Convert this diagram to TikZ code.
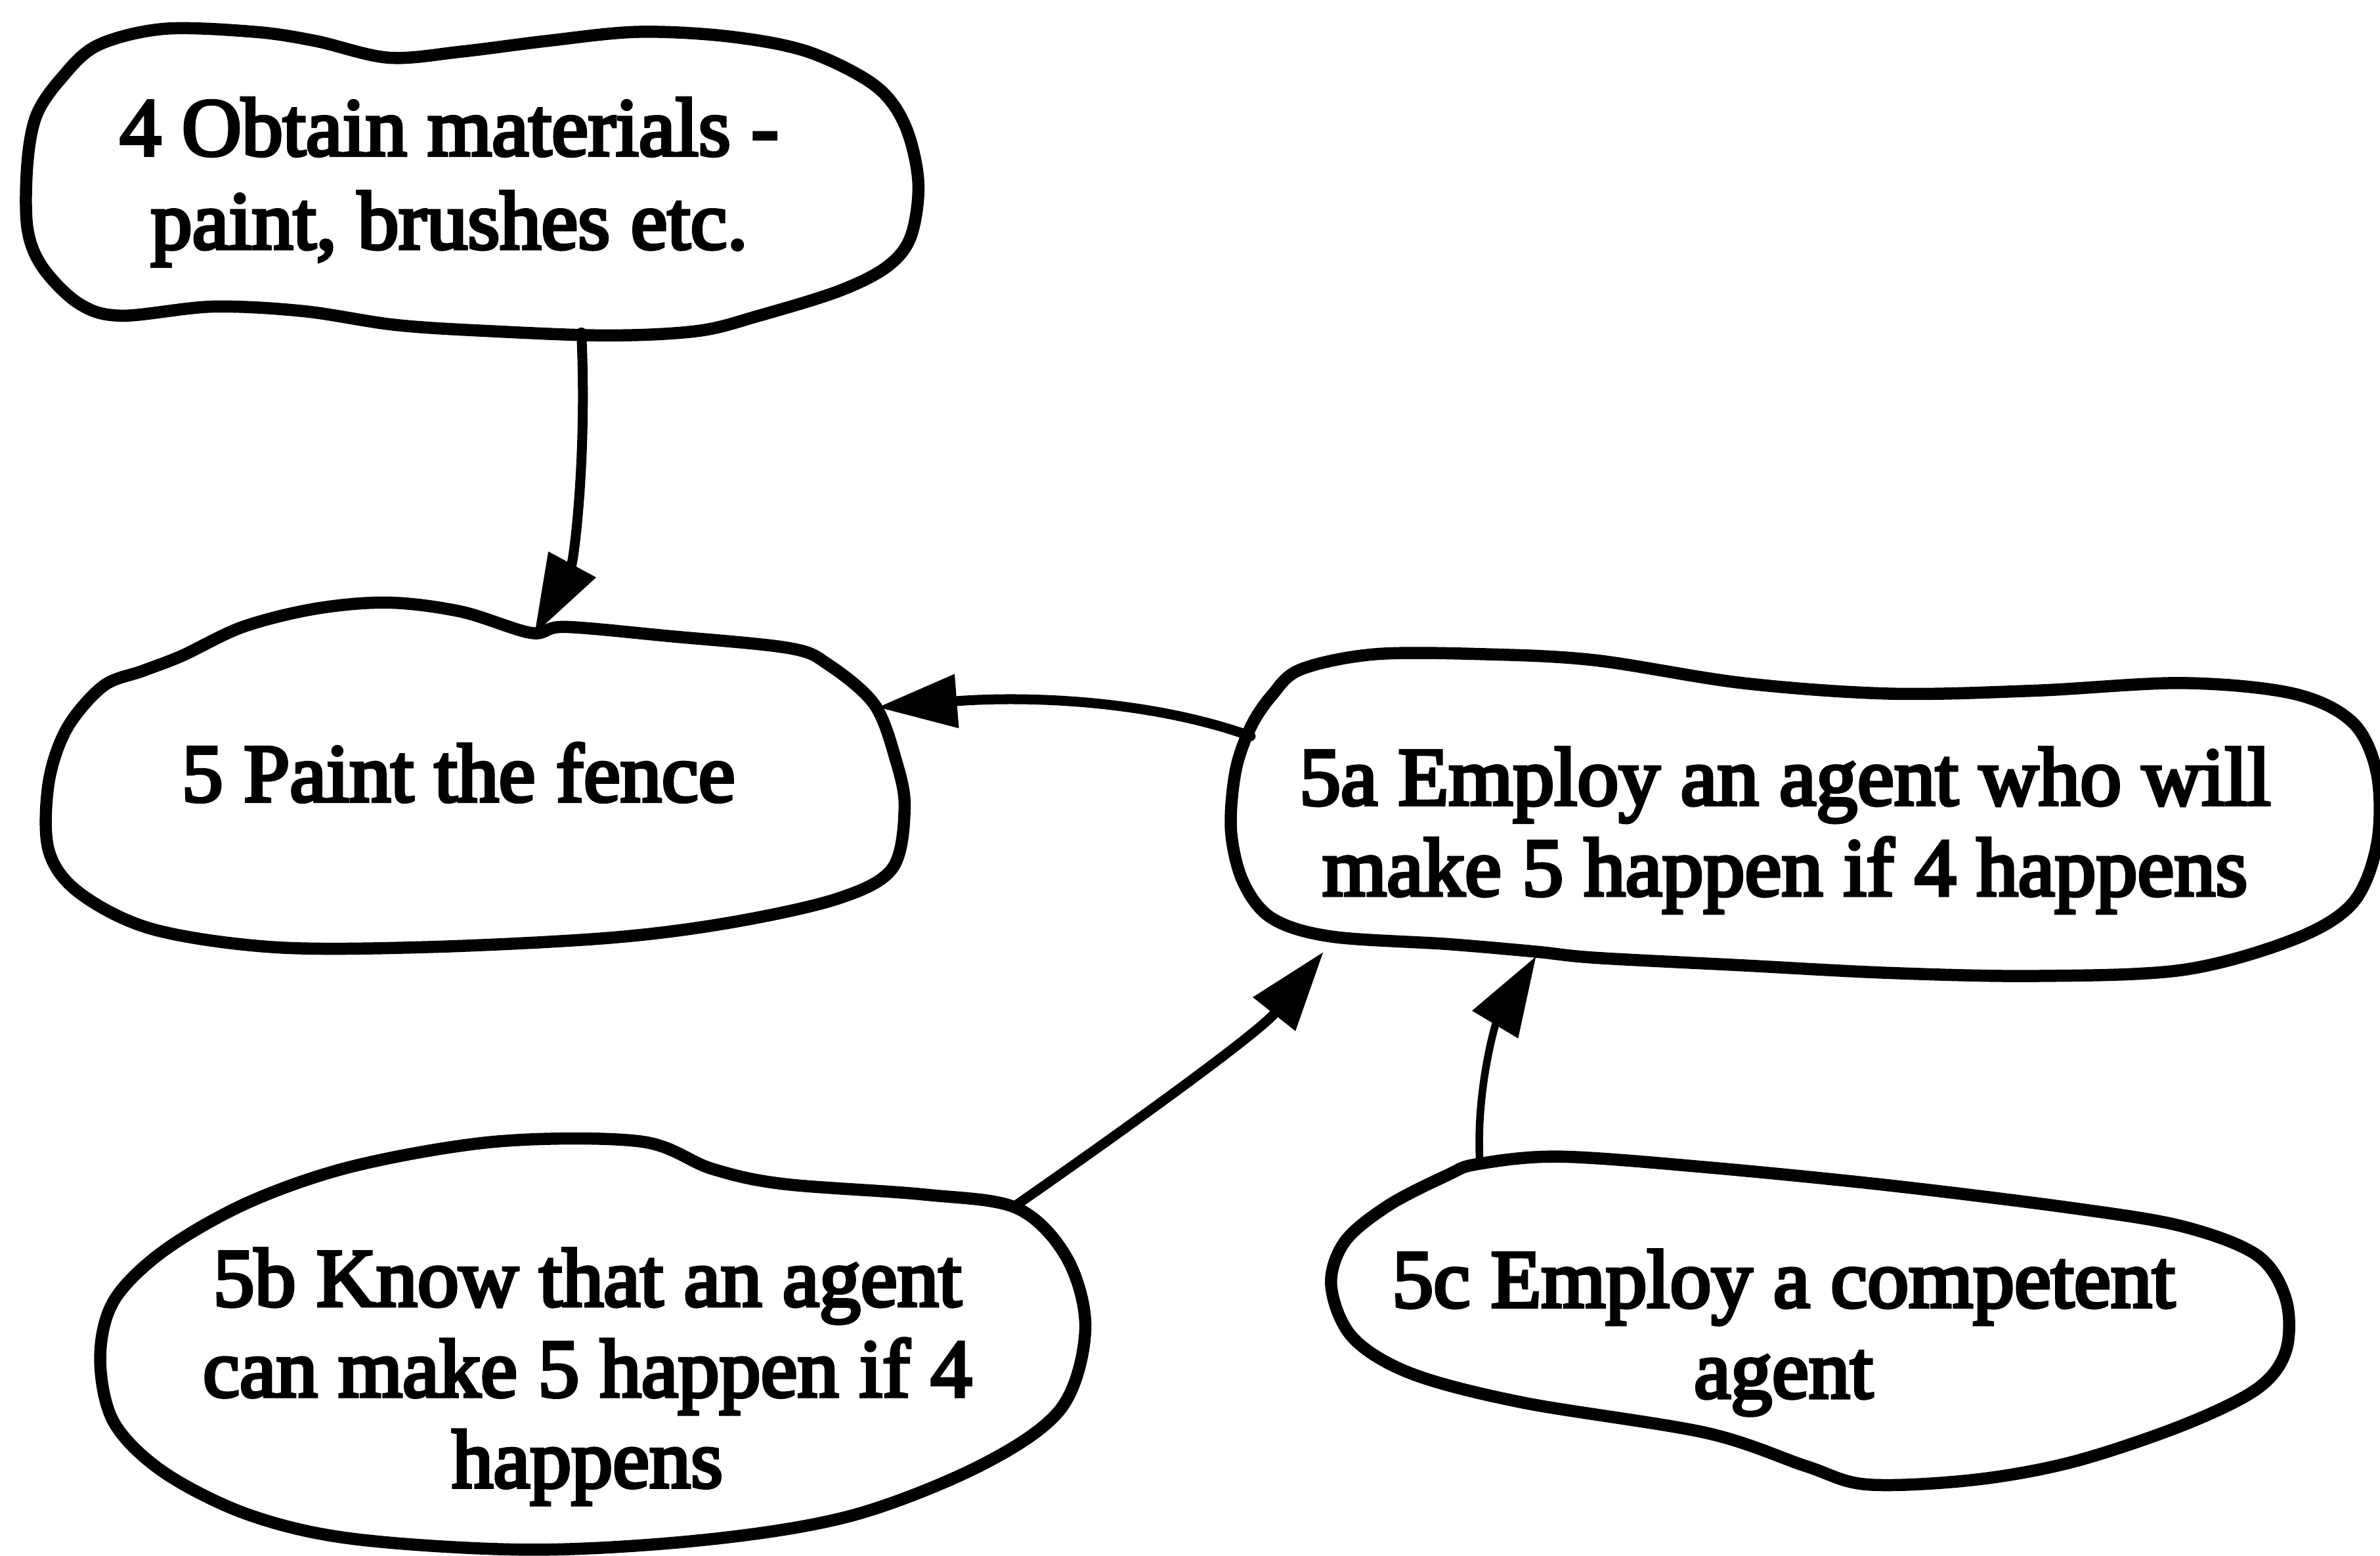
\documentclass[tikz,border=0pt]{standalone}
\usepackage{fontspec}
\setmainfont{Liberation Serif}
\newfontfamily\blobfont{Liberation Serif}[FakeBold=4]
\usetikzlibrary{arrows.meta}

\begin{document}
\begin{tikzpicture}[x=0.02cm, y=-0.02cm,
  blob/.style={line width=0.16cm, line join=round},
  blobtext/.style={align=center, inner sep=0pt,
    font=\blobfont\fontsize{31pt}{34pt}\selectfont},
  conn/.style={line width=0.13cm, line cap=round,
    -{Triangle[length=1.05cm,width=0.68cm]}}]

\useasboundingbox (0,0) rectangle (1568,1025);

% ---- outlines of the goal bubbles ----
\draw[blob] plot[smooth cycle, tension=0.55] coordinates {
  (24,76) (40,52) (64,30) (108,19) (168,21) (208,27) (256,38) (304,34)
  (360,27) (420,21) (480,24) (532,34) (576,56) (596,82) (605,120)
  (600,156) (584,176) (552,192) (500,208) (460,218) (400,221) (320,218)
  (260,214) (200,205) (140,202) (80,208) (52,200) (28,176) (18,150) (18,108)};

\draw[blob] plot[smooth cycle, tension=0.55] coordinates {
  (68,452) (94,442) (120,432) (160,413) (208,401) (256,397) (304,403)
  (350,417) (372,413) (440,419) (520,427) (546,438) (576,464) (590,500)
  (596,532) (588,572) (552,592) (480,608) (400,618) (280,624) (180,624)
  (100,612) (52,588) (32,560) (32,516) (44,480)};

\draw[blob] plot[smooth cycle, tension=0.55] coordinates {
  (824,479) (838,458) (857,441) (906,431) (978,431) (1051,435) (1148,450)
  (1245,457) (1341,455) (1438,450) (1511,457) (1550,476) (1566,510)
  (1566,556) (1550,595) (1511,619) (1438,639) (1341,643) (1245,641)
  (1148,636) (1051,631) (1012,627) (954,622) (877,617) (838,605)
  (819,581) (811,547) (814,508)};

\draw[blob] plot[smooth cycle, tension=0.55] coordinates {
  (422,752) (328,752) (234,768) (164,792) (108,824) (75,857) (66,895)
  (75,937) (108,970) (164,998) (234,1014) (352,1021) (469,1014) (563,998)
  (647,965) (699,928) (715,876) (703,829) (670,796) (609,787) (516,780)
  (469,770)};

\draw[blob] plot[smooth cycle, tension=0.55] coordinates {
  (973,767) (1027,762) (1124,769) (1245,781) (1366,796) (1438,808)
  (1487,827) (1506,856) (1506,890) (1487,915) (1438,939) (1366,963)
  (1300,975) (1230,978) (1190,966) (1124,944) (1003,924) (930,905)
  (891,881) (877,847) (886,818) (915,794) (954,774)};

% ---- goal texts ----
\node[blobtext, font=\blobfont\fontsize{31pt}{35pt}\selectfont] (n4) at (296,120)
  {4 Obtain materials -\\paint, brushes etc.};
\node[blobtext] (n5) at (302,509) {5 Paint the fence};
\node[blobtext] (n5a) at (1176,547)
  {5a Employ an agent who will\\make 5 happen if 4 happens};
\node[blobtext] (n5b) at (387,907)
  {5b Know that an agent\\can make 5 happen if 4\\happens};
\node[blobtext] (n5c) at (1175,878)
  {5c Employ a competent\\agent};

% ---- attachment points on the outlines ----
\coordinate (n4-s)   at (383,219);
\coordinate (n5-n)   at (352,418);
\coordinate (n5-e)   at (578,466);
\coordinate (n5a-w)  at (824,485);
\coordinate (n5a-sw) at (872,627);
\coordinate (n5a-s)  at (1012,630);
\coordinate (n5b-ne) at (668,795);
\coordinate (n5c-n)  at (975,767);

% ---- connectors ----
\draw[conn] (n4-s) .. controls (387,300) and (378,370) .. (n5-n);
\draw[conn] (n5a-w) .. controls (760,462) and (680,458) .. (n5-e);
\draw[conn] (n5b-ne) .. controls (740,745) and (830,680) .. (n5a-sw);
\draw[conn, line width=0.1cm] (n5c-n) .. controls (972,720) and (985,675) .. (n5a-s);

\end{tikzpicture}
\end{document}
